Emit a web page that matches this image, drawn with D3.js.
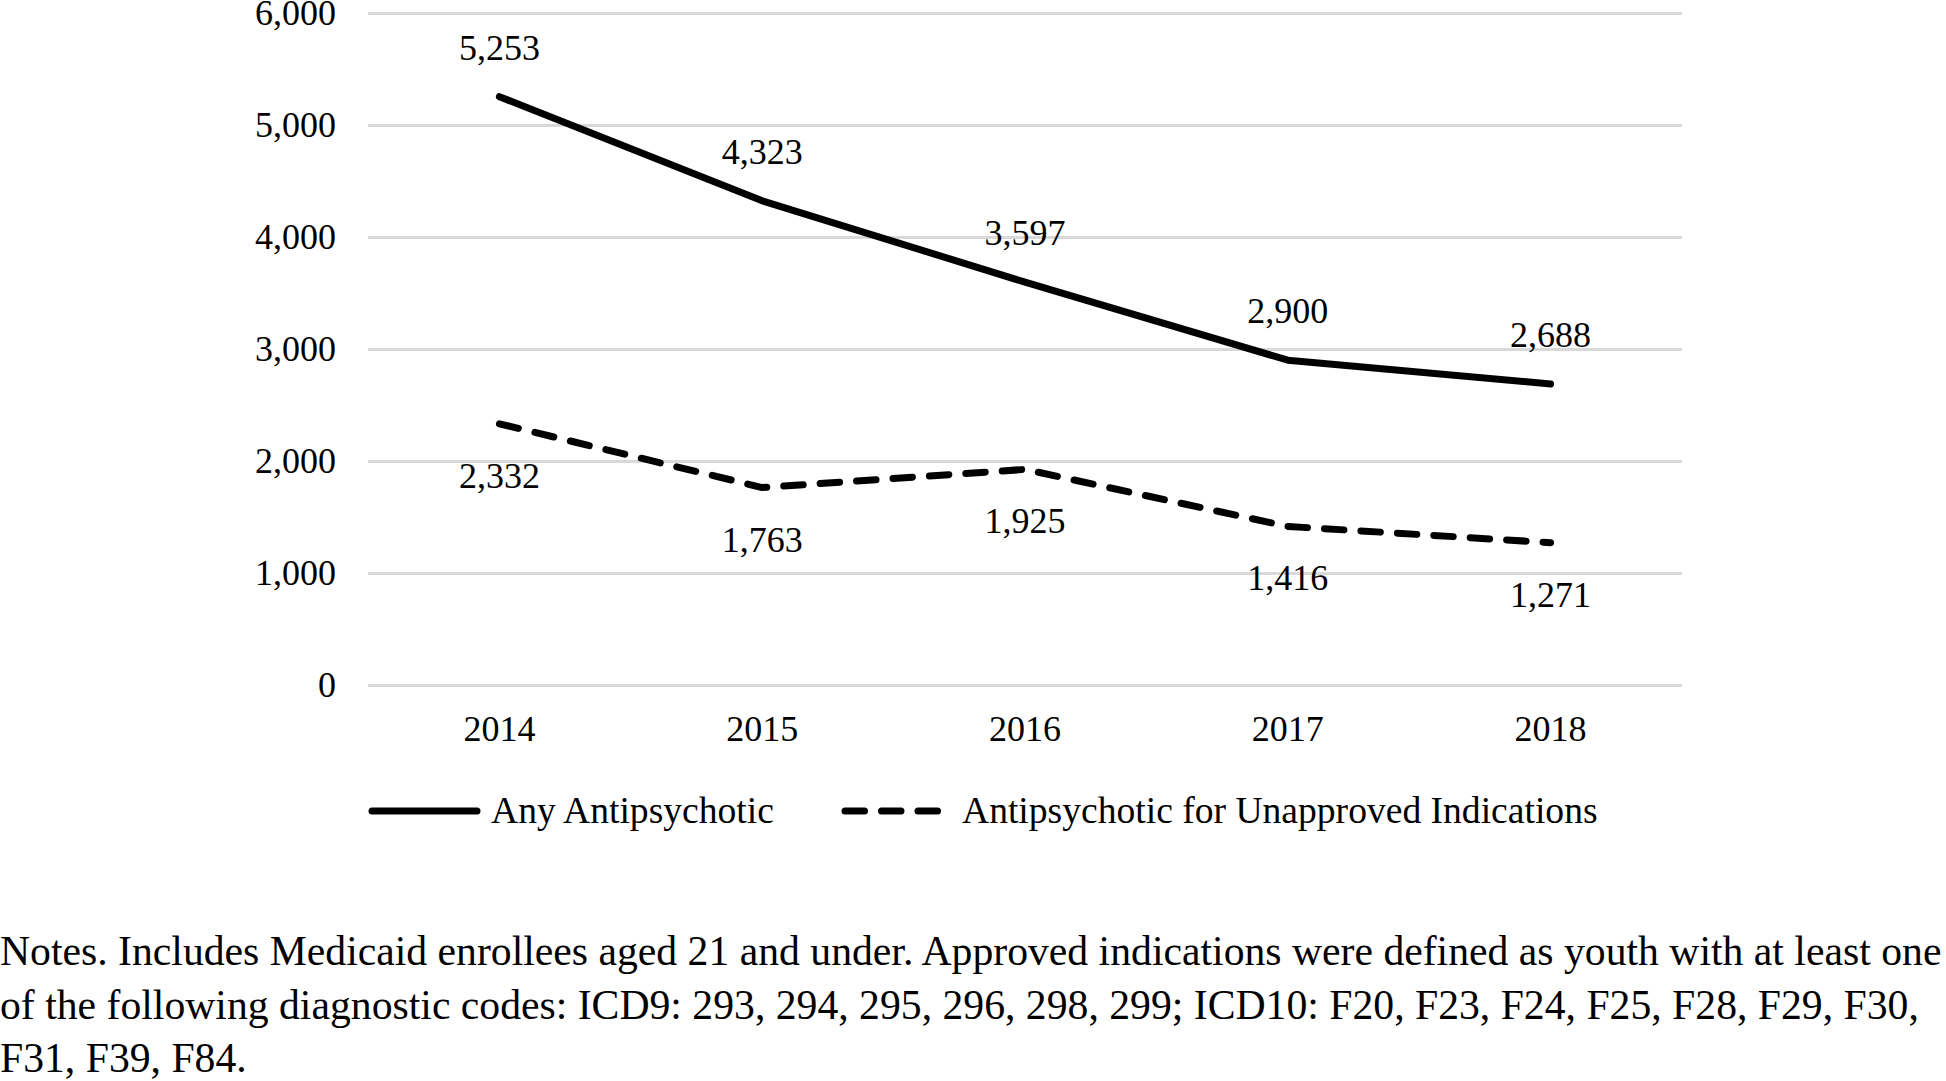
<!DOCTYPE html>
<html>
<head>
<meta charset="utf-8">
<script src="https://cdn.jsdelivr.net/npm/d3@7"></script>
<style>
  body { margin: 0; background: #fff; }
  svg { display: block; font-family: "Liberation Serif", "Times New Roman", serif; }
</style>
</head>
<body>
<script>
(function () {
  'use strict';

  // data
  const years = ["2014", "2015", "2016", "2017", "2018"];
  const anyAntipsychotic = [5253, 4323, 3597, 2900, 2688];
  const unapproved = [2332, 1763, 1925, 1416, 1271];
  const yTicks = [0, 1000, 2000, 3000, 4000, 5000, 6000];
  const seriesNames = ["Any Antipsychotic", "Antipsychotic for Unapproved Indications"];
  const notes = [
    "Notes. Includes Medicaid enrollees aged 21 and under. Approved indications were defined as youth with at least one",
    "of the following diagnostic codes: ICD9: 293, 294, 295, 296, 298, 299; ICD10: F20, F23, F24, F25, F28, F29, F30,",
    "F31, F39, F84."
  ];

  var W = 1946, H = 1081;
  var plot = {left: 368, right: 1682, top: 13, bottom: 685};
  var fs = 36;

  var svg = d3.select("body").append("svg")
    .attr("width", W)
    .attr("height", H);

  svg.append("rect").attr("width", W).attr("height", H).attr("fill", "#fff");

  var x = d3.scaleBand().domain(years).range([plot.left, plot.right]).padding(0);
  var y = d3.scaleLinear().domain([0, 6000]).range([plot.bottom, plot.top]);
  var cx = function (d) { return x(d) + x.bandwidth() / 2; };

  // y axis + gridlines
  var yAxis = d3.axisLeft(y)
    .tickValues(yTicks)
    .tickSize(-(plot.right - plot.left))
    .tickPadding(32)
    .tickFormat(d3.format(","));

  var gy = svg.append("g")
    .attr("transform", "translate(" + plot.left + ",0)")
    .call(yAxis)
    .attr("font-family", null)
    .attr("font-size", fs);
  gy.select(".domain").remove();
  gy.selectAll("line").attr("stroke", "#d9d9d9").attr("stroke-width", 3);
  gy.selectAll("text").attr("fill", "#000");

  // x axis labels
  var xAxis = d3.axisBottom(x).tickSize(0).tickPadding(30);
  var gx = svg.append("g")
    .attr("transform", "translate(0," + plot.bottom + ")")
    .call(xAxis)
    .attr("font-family", null)
    .attr("font-size", fs);
  gx.select(".domain").remove();
  gx.selectAll("text").attr("fill", "#000");

  var line = d3.line()
    .x(function (d) { return cx(d.year); })
    .y(function (d) { return y(d.v); });

  var series = [
    {name: seriesNames[0], values: anyAntipsychotic, dash: null, above: true},
    {name: seriesNames[1], values: unapproved, dash: "19.5,17", above: false}
  ];

  series.forEach(function (s) {
    var pts = years.map(function (yr, i) { return {year: yr, v: s.values[i]}; });

    svg.append("path")
      .datum(pts)
      .attr("d", line)
      .attr("fill", "none")
      .attr("stroke", "#000")
      .attr("stroke-width", 7)
      .attr("stroke-linecap", "round")
      .attr("stroke-linejoin", "round")
      .attr("stroke-dasharray", s.dash);

    svg.append("g").selectAll("text")
      .data(pts)
      .enter()
      .append("text")
      .attr("x", function (d) { return cx(d.year); })
      .attr("y", function (d) { return y(d.v) + (s.above ? -37 : 64); })
      .attr("text-anchor", "middle")
      .attr("font-size", fs + "px")
      .attr("fill", "#000")
      .text(function (d) { return d3.format(",")(d.v); });
  });

  // legend
  var legend = [
    {name: seriesNames[0], dash: null, x1: 372, x2: 477, tx: 491},
    {name: seriesNames[1], dash: "19.5,17", x1: 845, x2: 945, tx: 962}
  ];
  var ly = 811;
  var lg = svg.append("g").selectAll("g").data(legend).enter().append("g");
  lg.append("line")
    .attr("x1", function (d) { return d.x1; })
    .attr("x2", function (d) { return d.x2; })
    .attr("y1", ly).attr("y2", ly)
    .attr("stroke", "#000")
    .attr("stroke-width", 7)
    .attr("stroke-linecap", "round")
    .attr("stroke-dasharray", function (d) { return d.dash; });
  lg.append("text")
    .attr("x", function (d) { return d.tx; })
    .attr("y", ly + 12)
    .attr("font-size", "37.6px")
    .attr("fill", "#000")
    .text(function (d) { return d.name; });

  // notes
  svg.append("g").selectAll("text")
    .data(notes)
    .enter()
    .append("text")
    .attr("x", 0)
    .attr("y", function (d, i) { return 965 + i * 53.5; })
    .attr("font-size", "41.7px")
    .attr("fill", "#000")
    .text(function (d) { return d; });
})();
</script>
</body>
</html>
